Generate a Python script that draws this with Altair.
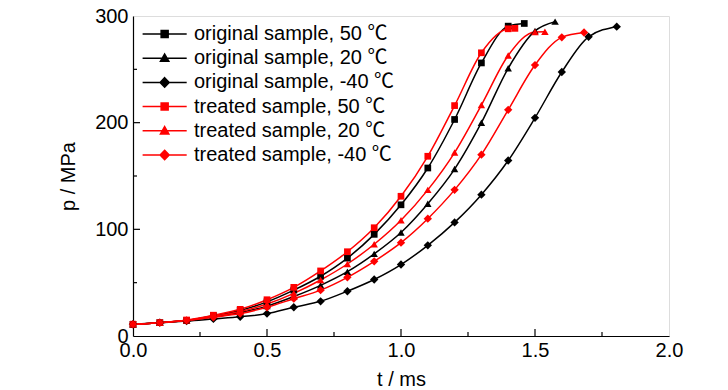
import altair as alt
import pandas as pd

FONT = "Liberation Sans, Arial, Noto Sans CJK SC, sans-serif"

series_names = [
    "original sample, 50 ℃",
    "original sample, 20 ℃",
    "original sample, -40 ℃",
    "treated sample, 50 ℃",
    "treated sample, 20 ℃",
    "treated sample, -40 ℃",
]
series_colors = ["#000000", "#000000", "#000000", "#ff0000", "#ff0000", "#ff0000"]

# time (ms) and pressure (MPa)
t_orig50 = [0.0, 0.1, 0.2, 0.3, 0.4, 0.5, 0.6, 0.7, 0.8, 0.9, 1.0, 1.1, 1.2, 1.3, 1.4, 1.46]
p_orig50 = [11, 12.5, 14.5, 19, 24, 32, 43, 56, 73, 95.3, 123, 157.5, 203, 256, 290.5, 293]

t_orig20 = [0.0, 0.1, 0.2, 0.3, 0.4, 0.5, 0.6, 0.7, 0.8, 0.9, 1.0, 1.1, 1.2, 1.3, 1.4, 1.5, 1.575]
p_orig20 = [11, 12.5, 14.5, 18, 22, 28, 37, 47.5, 60.3, 77, 97, 124, 156.5, 200, 251, 286, 294.7]

t_origm40 = [0.0, 0.1, 0.2, 0.3, 0.4, 0.5, 0.6, 0.7, 0.8, 0.9, 1.0, 1.1, 1.2, 1.3, 1.4, 1.5, 1.6, 1.7, 1.805]
p_origm40 = [11, 12.5, 14, 16, 18, 21, 27, 32.5, 42, 53, 67, 85, 106.5, 132.5, 164.5, 204.5, 247.5, 280.5, 290]

t_treat50 = [0.0, 0.1, 0.2, 0.3, 0.4, 0.5, 0.6, 0.7, 0.8, 0.9, 1.0, 1.1, 1.2, 1.3, 1.4, 1.425]
p_treat50 = [11, 12.5, 15, 19.5, 25, 34, 45.6, 61, 79, 101.5, 131, 168.5, 216, 265.5, 288, 288.4]

t_treat20 = [0.0, 0.1, 0.2, 0.3, 0.4, 0.5, 0.6, 0.7, 0.8, 0.9, 1.0, 1.1, 1.2, 1.3, 1.4, 1.5, 1.537]
p_treat20 = [11, 12.5, 14.5, 18.5, 23, 30, 40, 52.5, 67.5, 86, 108.5, 137, 172, 216.5, 263, 285, 285.2]

t_treatm40 = [0.0, 0.1, 0.2, 0.3, 0.4, 0.5, 0.6, 0.7, 0.8, 0.9, 1.0, 1.1, 1.2, 1.3, 1.4, 1.5, 1.6, 1.683]
p_treatm40 = [11, 12.5, 14.5, 17.5, 21, 27, 35, 43, 55, 70, 87.5, 110, 137, 170, 212, 254, 280, 284.5]

x_ticks = [0.0, 0.5, 1.0, 1.5, 2.0]
y_ticks = [0, 100, 200, 300]
x_major_in = [0.5, 1.0, 1.5]
x_minor_in = [0.25, 0.75, 1.25, 1.75]
y_major_in = [100, 200]
y_minor_in = [50, 150, 250]

all_t = [t_orig50, t_orig20, t_origm40, t_treat50, t_treat20, t_treatm40]
all_p = [p_orig50, p_orig20, p_origm40, p_treat50, p_treat20, p_treatm40]
marker_of = ["square", "triangle", "diamond", "square", "triangle", "diamond"]

rows = []
for name, ts, ps, mk in zip(series_names, all_t, all_p, marker_of):
    for t, p in zip(ts, ps):
        rows.append({"series": name, "t": t, "p": p, "marker": mk})
df = pd.DataFrame(rows)

W, H = 536, 320

xscale = alt.Scale(domain=[0, 2], nice=False)
yscale = alt.Scale(domain=[0, 300], nice=False)

x_enc = alt.X("t:Q", scale=xscale, axis=alt.Axis(
    title="t / ms", values=x_ticks, format=".1f", ticks=False,
    labelFont=FONT, labelFontSize=20, labelColor="black", labelPadding=4,
    titleFont=FONT, titleFontSize=20, titleFontWeight="normal", titleColor="black",
    titlePadding=9, domainColor="black", domainWidth=1.2, grid=False, labelFlush=False))
y_enc = alt.Y("p:Q", scale=yscale, axis=alt.Axis(
    title="p / MPa", values=y_ticks, ticks=False,
    labelFont=FONT, labelFontSize=20, labelColor="black", labelPadding=5,
    titleFont=FONT, titleFontSize=20, titleFontWeight="normal", titleColor="black",
    titlePadding=16, domainColor="black", domainWidth=1.2, grid=False, labelFlush=False))

# legend symbols: a line with the marker in its middle
line_part = "M-2.4,0H10.2"
sq = "M2.9,-1H4.9V1H2.9Z"
tri = "M3.9,-1.2L5.1,0.9H2.7Z"
dia = "M3.9,-1.35L5.2,0L3.9,1.35L2.6,0Z"
legend_paths = [line_part + sq, line_part + tri, line_part + dia] * 2

legend = alt.Legend(
    title=None, orient="top-left", offset=8,
    labelFont=FONT, labelFontSize=20, labelColor="black", labelLimit=500,
    labelOffset=33, symbolSize=49, symbolStrokeWidth=1.5, rowPadding=4.2,
)

lines = alt.Chart(df).mark_line(interpolate="monotone", strokeWidth=1.5).encode(
    x=x_enc, y=y_enc,
    stroke=alt.Stroke("series:N", scale=alt.Scale(domain=series_names, range=series_colors), legend=legend),
    detail="series:N",
)

pts = []
for mk, sz in [("square", 45), ("triangle-up", 55), ("diamond", 70)]:
    key = "triangle" if mk == "triangle-up" else mk
    pts.append(
        alt.Chart(df).transform_filter(alt.datum.marker == key)
        .mark_point(filled=True, shape=mk, size=sz, opacity=1, strokeWidth=0)
        .encode(x="t:Q", y="p:Q",
                fill=alt.Fill("series:N", scale=alt.Scale(domain=series_names, range=series_colors), legend=legend))
    )

legend_layer = alt.Chart(df).transform_filter("datum.t < 0").mark_point().encode(
    x="t:Q", y="p:Q",
    shape=alt.Shape("series:N", scale=alt.Scale(domain=series_names, range=legend_paths), legend=legend),
)

# inward ticks
xt_major = alt.Chart(pd.DataFrame({"t": x_major_in})).mark_rule(color="black", strokeWidth=1.2).encode(
    x="t:Q", y=alt.value(H), y2=alt.value(H - 7))
xt_minor = alt.Chart(pd.DataFrame({"t": x_minor_in})).mark_rule(color="black", strokeWidth=1.2).encode(
    x="t:Q", y=alt.value(H), y2=alt.value(H - 4))
yt_major = alt.Chart(pd.DataFrame({"p": y_major_in})).mark_rule(color="black", strokeWidth=1.2).encode(
    y="p:Q", x=alt.value(0), x2=alt.value(7))
yt_minor = alt.Chart(pd.DataFrame({"p": y_minor_in})).mark_rule(color="black", strokeWidth=1.2).encode(
    y="p:Q", x=alt.value(0), x2=alt.value(4))

chart = alt.layer(lines, *pts, legend_layer, xt_major, xt_minor, yt_major, yt_minor).properties(
    width=W, height=H,
    autosize=alt.AutoSizeParams(type="none"),
    padding={"left": 125, "top": 8, "right": 40, "bottom": 54},
).configure_view(stroke="black", strokeWidth=1.2).configure(background="white")

chart.save("out.html", embed_options={"renderer": "svg", "actions": False})
